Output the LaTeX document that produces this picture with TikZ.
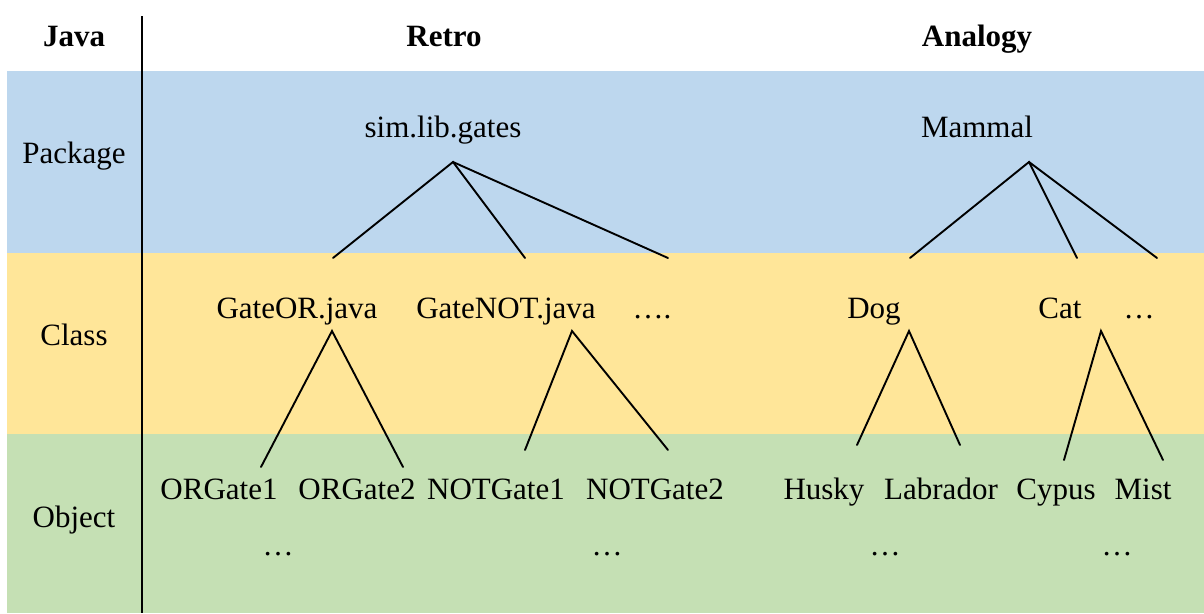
\documentclass[tikz,border=0pt]{standalone}
\usepackage{fontspec}
\setmainfont{Liberation Serif}
\definecolor{pkgblue}{HTML}{BDD7EE}
\definecolor{clsyellow}{HTML}{FFE699}
\definecolor{objgreen}{HTML}{C5E0B4}
\begin{document}
\begin{tikzpicture}[x=1pt,y=-1pt,
  lbl/.style={anchor=base,inner sep=0pt,font=\fontsize{31}{36}\selectfont},
  hdr/.style={lbl,font=\fontsize{31}{36}\selectfont\bfseries},
  branch/.style={line width=1.9pt,line cap=round},
  divider/.style={line width=2pt}]
\useasboundingbox (0,0) rectangle (1204,613);

% level bands
\fill[pkgblue]   (7,71)  rectangle (1204,253);
\fill[clsyellow] (7,253) rectangle (1204,434);
\fill[objgreen]  (7,434) rectangle (1204,613);

% column divider
\coordinate (divtop) at (142,16);
\coordinate (divbot) at (142,613);
\draw[divider] (divtop) -- (divbot);

% column headers
\node[hdr] (hjava)    at (74,46)  {Java};
\node[hdr] (hretro)   at (444,46) {Retro};
\node[hdr] (hanalogy) at (977,46) {Analogy};

% row labels
\node[lbl] (rpackage) at (74,163) {Package};
\node[lbl] (rclass)   at (74,345) {Class};
\node[lbl] (robject)  at (74,527) {Object};

% package level
\node[lbl] (gates)  at (443,137) {sim.lib.gates};
\node[lbl] (mammal) at (977,137) {Mammal};

% class level
\node[lbl] (gateor)  at (297,318) {GateOR.java};
\node[lbl] (gatenot) at (506,318) {GateNOT.java};
\node[lbl] (cdots1)  at (652,318) {….};
\node[lbl] (dog)     at (874,318) {Dog};
\node[lbl] (cat)     at (1060,318) {Cat};
\node[lbl] (cdots2)  at (1139,318) {…};

% object level
\node[lbl] (or1)  at (219,499) {ORGate1};
\node[lbl] (or2)  at (357,499) {ORGate2};
\node[lbl] (not1) at (496,499) {NOTGate1};
\node[lbl] (not2) at (655,499) {NOTGate2};
\node[lbl] (husky)    at (824,499) {Husky};
\node[lbl] (labrador) at (941,499) {Labrador};
\node[lbl] (cypus)    at (1056,499) {Cypus};
\node[lbl] (mist)     at (1143,499) {Mist};
\node[lbl] (odots1) at (278,555) {…};
\node[lbl] (odots2) at (607,555) {…};
\node[lbl] (odots3) at (885,555) {…};
\node[lbl] (odots4) at (1117,555) {…};

% branch points
\coordinate (gatesroot)  at (453,162);
\coordinate (gatesa)     at (333,258);
\coordinate (gatesb)     at (525,258);
\coordinate (gatesc)     at (668,258);
\coordinate (mammalroot) at (1029,162);
\coordinate (mammala)    at (910,258);
\coordinate (mammalb)    at (1077,258);
\coordinate (mammalc)    at (1157,258);
\coordinate (gateorroot) at (332,331);
\coordinate (gateora)    at (261,467);
\coordinate (gateorb)    at (403,467);
\coordinate (gatenotroot) at (572,331);
\coordinate (gatenota)   at (525,450);
\coordinate (gatenotb)   at (668,450);
\coordinate (dogroot)    at (909,331);
\coordinate (doga)       at (857,445);
\coordinate (dogb)       at (960,445);
\coordinate (catroot)    at (1101,331);
\coordinate (cata)       at (1064,460);
\coordinate (catb)       at (1163,460);

% branches
\draw[branch] (gatesa) -- (gatesroot) -- (gatesb);
\draw[branch] (gatesroot) -- (gatesc);
\draw[branch] (mammala) -- (mammalroot) -- (mammalb);
\draw[branch] (mammalroot) -- (mammalc);
\draw[branch] (gateora) -- (gateorroot) -- (gateorb);
\draw[branch] (gatenota) -- (gatenotroot) -- (gatenotb);
\draw[branch] (doga) -- (dogroot) -- (dogb);
\draw[branch] (cata) -- (catroot) -- (catb);
\end{tikzpicture}
\end{document}
